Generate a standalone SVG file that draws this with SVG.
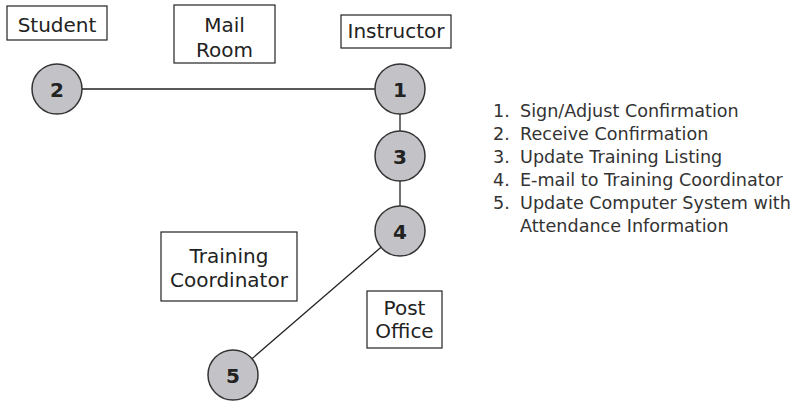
<svg xmlns="http://www.w3.org/2000/svg" width="799" height="401" viewBox="0 0 799 401">
<style>
.box{fill:#fff;stroke:#222;stroke-width:1.2}
.lbl{font-family:"DejaVu Sans",sans-serif;font-size:20px;fill:#222;text-anchor:middle}
.step{fill:#c3c3c7;stroke:#333;stroke-width:1.5}
.num{font-family:"DejaVu Sans",sans-serif;font-size:20px;font-weight:bold;fill:#222;text-anchor:middle}
.conn{stroke:#222;stroke-width:1.3;fill:none}
.leg{font-family:"DejaVu Sans",sans-serif;font-size:17.6px;fill:#333}
</style>
<rect width="799" height="401" fill="#fff"/>
<g id="connectors">
<line class="conn" x1="82" y1="89" x2="375" y2="89"/>
<line class="conn" x1="400" y1="114" x2="400" y2="131"/>
<line class="conn" x1="400" y1="181" x2="400" y2="206"/>
<line class="conn" x1="381" y1="247.3" x2="252" y2="358.7"/>
</g>
<g id="student"><rect class="box" x="7" y="6" width="100" height="34"/><text class="lbl" x="57" y="32">Student</text></g>
<g id="mailroom"><rect class="box" x="174" y="5" width="101" height="58"/><text class="lbl" x="224.5" y="32">Mail</text><text class="lbl" x="224.5" y="57">Room</text></g>
<g id="instructor"><rect class="box" x="341" y="15" width="110" height="33"/><text class="lbl" x="396" y="38">Instructor</text></g>
<g id="trainingcoord"><rect class="box" x="161" y="232" width="136" height="69"/><text class="lbl" x="229" y="263">Training</text><text class="lbl" x="229" y="287">Coordinator</text></g>
<g id="postoffice"><rect class="box" x="367" y="291" width="75" height="57"/><text class="lbl" x="404.5" y="315">Post</text><text class="lbl" x="404.5" y="338">Office</text></g>
<g id="step1"><circle class="step" cx="400" cy="89" r="25"/><text class="num" x="400" y="96.5">1</text></g>
<g id="step2"><circle class="step" cx="57" cy="89" r="25"/><text class="num" x="57" y="96.5">2</text></g>
<g id="step3"><circle class="step" cx="400" cy="156" r="25"/><text class="num" x="400" y="163.5">3</text></g>
<g id="step4"><circle class="step" cx="400" cy="231" r="25"/><text class="num" x="400" y="238.5">4</text></g>
<g id="step5"><circle class="step" cx="233" cy="375" r="25"/><text class="num" x="233" y="382.5">5</text></g>
<g id="legend">
<text class="leg" y="117"><tspan x="493">1.</tspan><tspan x="520">Sign/Adjust Confirmation</tspan></text>
<text class="leg" y="140"><tspan x="493">2.</tspan><tspan x="520">Receive Confirmation</tspan></text>
<text class="leg" y="163"><tspan x="493">3.</tspan><tspan x="520">Update Training Listing</tspan></text>
<text class="leg" y="186"><tspan x="493">4.</tspan><tspan x="520">E-mail to Training Coordinator</tspan></text>
<text class="leg" y="209"><tspan x="493">5.</tspan><tspan x="520">Update Computer System with</tspan></text>
<text class="leg" y="232" x="520">Attendance Information</text>
</g>
</svg>
